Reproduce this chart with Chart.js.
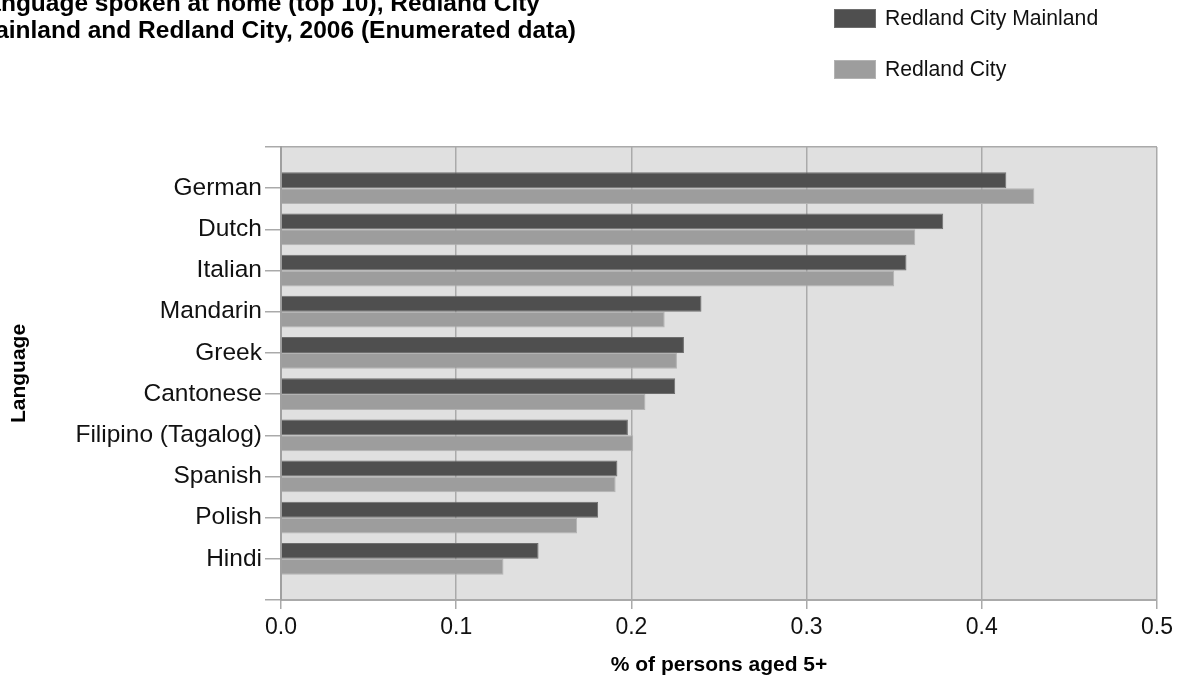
<!DOCTYPE html>
<html>
<head>
<meta charset="utf-8">
<script src="https://cdn.jsdelivr.net/npm/chart.js@4.4.1/dist/chart.umd.min.js"></script>
<style>
  body { margin: 0; background: #fff; }
  canvas { display: block; }
</style>
</head>
<body>
<canvas id="langChart" width="1184" height="684"></canvas>
<script>
const languages = ['German', 'Dutch', 'Italian', 'Mandarin', 'Greek', 'Cantonese', 'Filipino (Tagalog)', 'Spanish', 'Polish', 'Hindi'];
const mainland = [0.414, 0.378, 0.357, 0.240, 0.230, 0.225, 0.198, 0.192, 0.181, 0.147];
const redlandCity = [0.430, 0.362, 0.350, 0.219, 0.226, 0.208, 0.201, 0.191, 0.169, 0.127];
const xTicks = [0, 0.1, 0.2, 0.3, 0.4, 0.5];

const titleLines = ['Language spoken at home (top 10), Redland City', 'Mainland and Redland City, 2006 (Enumerated data)'];
const fontFamily = '"Liberation Sans", Arial, sans-serif';

// position languages 1..10 on a linear axis running 0..11 (extra half-band top and bottom)
const toPoints = values => values.map((v, i) => ({ x: v, y: i + 1 }));

const plotBackground = {
  id: 'plotBackground',
  beforeDraw(chart) {
    const { ctx, chartArea: a } = chart;
    ctx.save();
    ctx.fillStyle = '#e0e0e0';
    ctx.fillRect(a.left, a.top, a.right - a.left, a.bottom - a.top);
    ctx.restore();
  }
};

const titleAndLegend = {
  id: 'titleAndLegend',
  afterDraw(chart) {
    const ctx = chart.ctx;
    ctx.save();
    // title is cut off at the left edge in the original
    ctx.font = 'bold 24.5px ' + fontFamily;
    ctx.fillStyle = '#000';
    ctx.textAlign = 'right';
    ctx.textBaseline = 'alphabetic';
    ctx.fillText(titleLines[0], 540, 11);
    ctx.fillText(titleLines[1], 576, 38);

    // legend in a column at the top right
    ctx.font = '21.2px ' + fontFamily;
    ctx.textAlign = 'left';
    ctx.textBaseline = 'middle';
    chart.data.datasets.forEach((ds, i) => {
      const y = 9 + i * 51;
      ctx.fillStyle = ds.borderColor;
      ctx.fillRect(834, y, 42, 19);
      ctx.fillStyle = ds.backgroundColor;
      ctx.fillRect(835, y + 1, 40, 17);
      ctx.fillStyle = '#111';
      ctx.fillText(ds.label, 885, y + 10);
    });
    ctx.restore();
  }
};

const ctx = document.getElementById('langChart').getContext('2d');

new Chart(ctx, {
  type: 'bar',
  data: {
    datasets: [{
      label: 'Redland City Mainland',
      data: toPoints(mainland),
      backgroundColor: '#4f4f4f',
      borderColor: '#6e6e6e',
      borderWidth: 1
    }, {
      label: 'Redland City',
      data: toPoints(redlandCity),
      backgroundColor: '#9d9d9d',
      borderColor: '#b3b3b3',
      borderWidth: 1
    }]
  },
  options: {
    indexAxis: 'y',
    responsive: false,
    animation: false,
    categoryPercentage: 0.77,
    barPercentage: 1.0,
    layout: {
      padding: { top: 147, right: 27, left: 0, bottom: 0 }
    },
    plugins: {
      legend: { display: false },
      title: { display: false },
      tooltip: { enabled: false }
    },
    scales: {
      x: {
        type: 'linear',
        min: 0,
        max: 0.5,
        afterFit: scale => { scale.height = 84; },
        afterBuildTicks: scale => { scale.ticks = xTicks.map(v => ({ value: v })); },
        ticks: {
          color: '#111',
          padding: 5,
          font: { family: fontFamily, size: 23 },
          callback: v => v.toFixed(1)
        },
        grid: {
          color: '#aaaaaa',
          lineWidth: 1.5,
          tickLength: 9
        },
        border: { display: true, color: '#aaaaaa', width: 2 },
        title: {
          display: true,
          text: '% of persons aged 5+',
          color: '#000',
          padding: { top: 0, bottom: 6 },
          font: { family: fontFamily, size: 21, weight: 'bold' }
        }
      },
      y: {
        type: 'linear',
        min: 0,
        max: 11,
        reverse: true,
        offset: false,
        afterFit: scale => { scale.width = 281; },
        ticks: {
          stepSize: 1,
          color: '#111',
          padding: 3,
          autoSkip: false,
          font: { family: fontFamily, size: 24.5 },
          callback: v => languages[v - 1] || ''
        },
        grid: {
          offset: false,
          drawOnChartArea: true,
          drawTicks: true,
          // only the top and bottom edges cross the plot
          color: c => (c.tick && (c.tick.value === 0 || c.tick.value === 11)) ? '#aaaaaa' : 'rgba(0,0,0,0)',
          tickColor: '#aaaaaa',
          lineWidth: 1.5,
          tickLength: 16
        },
        border: { display: true, color: '#a0a0a0', width: 2 },
        title: {
          display: true,
          text: 'Language',
          color: '#000',
          padding: { top: 7, bottom: 0 },
          font: { family: fontFamily, size: 21, weight: 'bold' }
        }
      }
    }
  },
  plugins: [plotBackground, titleAndLegend]
});
</script>
</body>
</html>
